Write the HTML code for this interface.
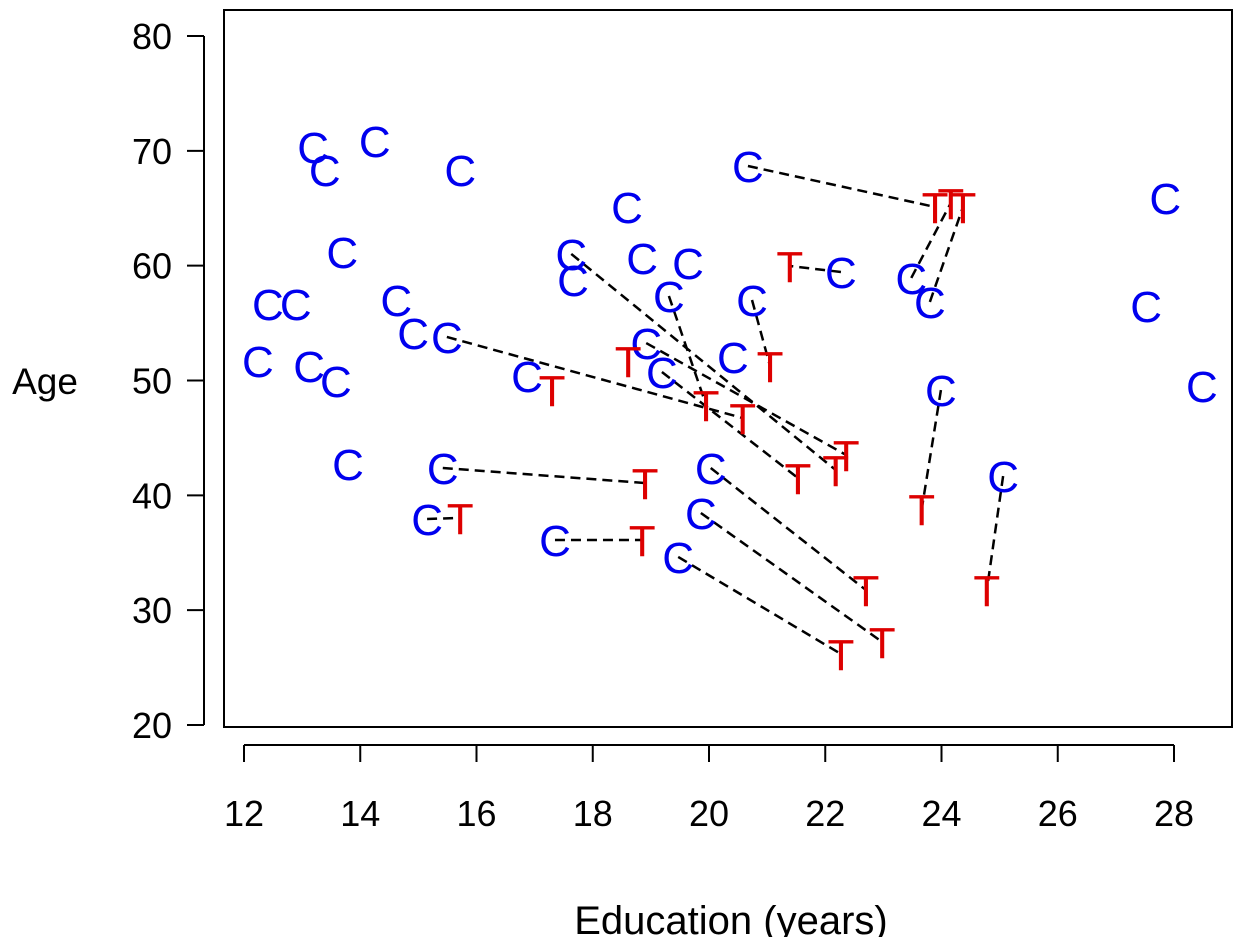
<!DOCTYPE html>
<html><head><meta charset="utf-8"><style>
html,body{margin:0;padding:0;background:#fff;}
svg{display:block;font-family:"Liberation Sans",Arial,sans-serif;}
</style></head><body>
<svg id="chart" width="1254" height="937">
<rect x="224" y="10" width="1008" height="717" fill="none" stroke="#000" stroke-width="2"/>
<g id="axes"></g><g id="lines"></g><g id="pts"></g>
<text x="45" y="394" font-size="37" text-anchor="middle">Age</text>
<text x="731" y="934" font-size="40" text-anchor="middle">Education (years)</text>
</svg>
<script>
const xTicks=[12,14,16,18,20,22,24,26,28];
const yTicks=[20,30,40,50,60,70,80];
const ctrlEdu=[13.19,13.39,14.25,15.72,13.69,12.41,12.89,14.62,14.91,15.49,12.24,13.12,13.58,13.79,18.59,17.63,17.66,18.85,19.64,19.31,18.92,19.19,16.87,20.41,20.74,20.67,22.27,23.48,23.80,23.99,25.06,27.85,27.52,28.48,15.42,15.15,17.35,20.03,19.86,19.47];
const ctrlAge=[70.33,68.33,70.86,68.33,61.19,56.66,56.66,57.01,54.14,53.79,51.70,51.26,49.96,42.73,65.11,61.02,58.75,60.67,60.23,57.36,53.26,50.74,50.39,52.05,57.01,68.68,59.45,58.93,56.84,49.17,41.68,65.89,56.49,49.52,42.38,37.94,36.11,42.38,38.46,34.63];
const trtEdu=[23.89,24.16,24.37,21.39,18.61,21.05,17.30,19.95,20.58,22.36,21.53,22.18,18.90,15.72,23.66,18.85,24.78,22.70,22.98,22.27];
const trtAge=[65.11,65.46,65.11,59.97,51.70,51.26,49.17,47.87,46.73,43.51,41.51,42.20,41.07,38.03,38.81,36.11,31.75,31.75,27.23,26.18];
const pairCtrl=[25,27,28,26,9,15,19,20,21,24,34,35,36,37,38,39,29,30];
const pairTrt=[0,1,2,3,8,11,7,9,10,5,12,13,15,17,18,19,14,16];
const sx=v=>244+(v-12)*58.125, sy=v=>36+(80-v)*11.483;
const NS="http://www.w3.org/2000/svg";
const ax=document.getElementById('axes'),ln=document.getElementById('lines'),pt=document.getElementById('pts');
function mk(tag,at,par){const e=document.createElementNS(NS,tag);for(const k in at)e.setAttribute(k,at[k]);par.appendChild(e);return e;}
mk('line',{x1:sx(12),x2:sx(28),y1:745,y2:745,stroke:'#000','stroke-width':2},ax);
mk('line',{x1:204,x2:204,y1:sy(20),y2:sy(80),stroke:'#000','stroke-width':2},ax);
xTicks.forEach(t=>{
 const l=mk('line',{x1:sx(t),x2:sx(t),y1:745,y2:762,stroke:'#000','stroke-width':2},ax);
 
 
 const tx=mk('text',{x:sx(t),y:826,'font-size':36,'text-anchor':'middle'},ax);tx.textContent=t;
 
 
});
yTicks.forEach(t=>{
 const l=mk('line',{x1:187,x2:204,y1:sy(t),y2:sy(t),stroke:'#000','stroke-width':2},ax);
 
 
 const tx=mk('text',{x:172,y:sy(t)+13,'font-size':36,'text-anchor':'end'},ax);tx.textContent=t;
 
 
});
pairCtrl.forEach((c,i)=>{
 const t=pairTrt[i];
 const l=mk('line',{x1:sx(ctrlEdu[c]),y1:sy(ctrlAge[c]),x2:sx(trtEdu[t]),y2:sy(trtAge[t]),stroke:'#000','stroke-width':2.5,'stroke-dasharray':'10,6'},ln);
 
 
});
ctrlEdu.forEach((v,i)=>{
 const e=mk('text',{x:sx(v),y:sy(ctrlAge[i])+16,'font-size':44,'text-anchor':'middle',fill:'#0000ee'},pt);e.textContent='C';
 
 
});
trtEdu.forEach((v,i)=>{
 const e=mk('text',{x:sx(v),y:sy(trtAge[i])+16,'font-size':44,'text-anchor':'middle',fill:'#dd0000'},pt);e.textContent='T';
 
 
});
</script>
</body></html>
